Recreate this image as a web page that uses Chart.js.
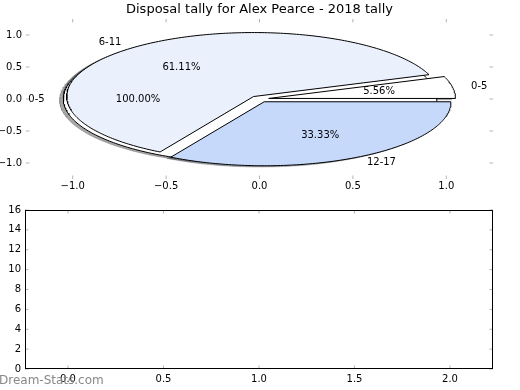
<!DOCTYPE html>
<html><head><meta charset="utf-8">
<script src="https://cdn.jsdelivr.net/npm/chart.js@4.4.0/dist/chart.umd.min.js"></script>
<style>
html,body{margin:0;padding:0;background:#fff;}
#wrap{position:relative;width:520px;height:390px;overflow:hidden;background:#fff;}
#top{position:absolute;left:0;top:0;}
#bot{position:absolute;left:0;top:200px;}
#wm{position:absolute;left:-1px;top:373px;font:12px "DejaVu Sans";line-height:14px;color:#888;white-space:nowrap;}
</style></head><body>
<div id="wrap">
<canvas id="top" width="520" height="200"></canvas>
<canvas id="bot" width="520" height="190"></canvas>
<div id="wm">Dream-Stats.com</div>
</div>
<script>
// ---- data ----
const chartTitle = 'Disposal tally for Alex Pearce - 2018 tally';
const backCategories = ['0-5'];
const backValues = [1];
const categories = ['0-5', '6-11', '12-17'];
const values = [1, 11, 6];
const pieXTicks = [-1, -0.5, 0, 0.5, 1];
const pieYTicks = [-1, -0.5, 0, 0.5, 1];
const lowerXTicks = [0, 0.5, 1, 1.5, 2];
const lowerYTicks = [0, 2, 4, 6, 8, 10, 12, 14, 16];

// ---- style ----
const backColors = ['#ffffff'];
const sliceColors = ['#ffffff', '#eaf1fd', '#c6d9fb'];
const EXPLODE = 0.05, LABEL_D = 1.1, PCT_D = 0.6, SHADOW = -0.02;

Chart.defaults.font.family = '"DejaVu Sans", sans-serif';
Chart.defaults.font.size = 10;
Chart.defaults.color = '#000';

function wedges(vals, cats) {
  const total = vals.reduce((a, b) => a + b, 0);
  let a0 = 0;
  return vals.map((v, i) => {
    const frac = v / total;
    const a1 = a0 + 360 * frac;
    const mid = (a0 + a1) / 2 * Math.PI / 180;
    const cx = EXPLODE * Math.cos(mid), cy = EXPLODE * Math.sin(mid);
    const full = frac >= 0.99999;
    const pts = [];
    if (!full) pts.push({x: cx, y: cy});
    const n = Math.max(8, Math.ceil(frac * 360));
    for (let k = 0; k <= n; k++) {
      const t = (a0 + (a1 - a0) * k / n) * Math.PI / 180;
      pts.push({x: cx + Math.cos(t), y: cy + Math.sin(t)});
    }
    if (!full) pts.push({x: cx, y: cy});
    a0 = a1;
    return {label: cats[i], frac, mid, cx, cy, pts};
  });
}
function shadowColor(hex) {
  const r = parseInt(hex.slice(1, 3), 16), g = parseInt(hex.slice(3, 5), 16), b = parseInt(hex.slice(5, 7), 16);
  return `rgba(${Math.round(r * 0.3)},${Math.round(g * 0.3)},${Math.round(b * 0.3)},0.5)`;
}

const backW = wedges(backValues, backCategories);
const frontW = wedges(values, categories);
const datasets = [];
backW.map((w, i) => [w, backColors[i]]).concat(frontW.map((w, i) => [w, sliceColors[i]])).forEach(([w, c]) => {
  datasets.push({data: w.pts.map(p => ({x: p.x + SHADOW, y: p.y + SHADOW})), order: 100, fill: 'shape',
    backgroundColor: shadowColor(c), borderColor: shadowColor(c), borderWidth: 0.5, pointRadius: 0, tension: 0});
});
backW.forEach((w, i) => datasets.push({data: w.pts, order: 50, fill: 'shape', backgroundColor: backColors[i],
  borderColor: '#000', borderWidth: 1, pointRadius: 0, tension: 0}));
frontW.forEach((w, i) => datasets.push({data: w.pts, order: 10, fill: 'shape', backgroundColor: sliceColors[i],
  borderColor: '#000', borderWidth: 1, pointRadius: 0, tension: 0}));

const fmt1 = v => (v < 0 ? '\u2212' : '') + Math.abs(v).toFixed(1);
const fixTicks = list => scale => { scale.ticks = list.map(v => ({value: v})); };
const fixSize = (w, h) => scale => {
  if (w != null) scale.width = w;
  if (h != null) scale.height = h;
  scale.paddingTop = scale.paddingBottom = scale.paddingLeft = scale.paddingRight = 0;
};

const inwardTicks = {
  id: 'inwardTicks',
  afterDatasetsDraw(chart, args, opts) {
    const {ctx, chartArea: a, scales: {x, y}} = chart;
    const L = 3.5;
    ctx.save();
    ctx.strokeStyle = '#b4b4b4';
    ctx.lineWidth = 1;
    ctx.beginPath();
    x.ticks.forEach(t => {
      const p = x.getPixelForValue(t.value);
      ctx.moveTo(p, a.top); ctx.lineTo(p, a.top + L);
      ctx.moveTo(p, a.bottom); ctx.lineTo(p, a.bottom - L);
    });
    y.ticks.forEach(t => {
      const p = y.getPixelForValue(t.value);
      ctx.moveTo(a.left, p); ctx.lineTo(a.left + L, p);
      ctx.moveTo(a.right, p); ctx.lineTo(a.right - L, p);
    });
    ctx.stroke();
    if (opts.frame) {
      ctx.strokeStyle = '#000';
      ctx.strokeRect(Math.round(a.left) + 0.5, Math.round(a.top) + 0.5,
        Math.round(a.right) - Math.round(a.left) - 1, Math.round(a.bottom) - Math.round(a.top) - 1);
    }
    ctx.restore();
  }
};

const pieText = {
  id: 'pieText',
  afterDatasetsDraw(chart) {
    const {ctx, scales: {x, y}} = chart;
    ctx.save();
    ctx.font = '10px "DejaVu Sans"';
    ctx.fillStyle = '#000';
    ctx.textBaseline = 'middle';
    backW.concat(frontW).forEach(w => {
      const lx = w.cx + LABEL_D * Math.cos(w.mid), ly = w.cy + LABEL_D * Math.sin(w.mid);
      ctx.textAlign = lx > 0 ? 'left' : 'right';
      ctx.fillText(w.label, x.getPixelForValue(lx), y.getPixelForValue(ly));
      const px = w.cx + PCT_D * Math.cos(w.mid), py = w.cy + PCT_D * Math.sin(w.mid);
      ctx.textAlign = 'center';
      ctx.fillText((w.frac * 100).toFixed(2) + '%', x.getPixelForValue(px), y.getPixelForValue(py));
    });
    ctx.restore();
  }
};

new Chart(document.getElementById('top'), {
  type: 'line',
  data: {datasets},
  plugins: [inwardTicks, pieText],
  options: {
    responsive: false, animation: false, devicePixelRatio: 1, events: [],
    layout: {padding: {left: 0, right: 27, top: 0, bottom: 0}},
    plugins: {
      legend: {display: false}, tooltip: {enabled: false},
      title: {display: true, text: chartTitle, fullSize: false, color: '#000',
        font: {size: 13, weight: 'normal', lineHeight: 1.2}, padding: {top: 2, bottom: 1.4}},
      inwardTicks: {frame: false}
    },
    scales: {
      x: {type: 'linear', min: -1.25, max: 1.25, afterBuildTicks: fixTicks(pieXTicks), afterFit: fixSize(null, 21),
        grid: {display: false, drawTicks: false}, border: {display: false},
        ticks: {padding: 1.5, callback: fmt1, maxRotation: 0, autoSkip: false}},
      y: {type: 'linear', min: -1.25, max: 1.25, afterBuildTicks: fixTicks(pieYTicks), afterFit: fixSize(26, null),
        grid: {display: false, drawTicks: false}, border: {display: false},
        ticks: {padding: 4, callback: fmt1, autoSkip: false}}
    }
  }
});

new Chart(document.getElementById('bot'), {
  type: 'line',
  data: {datasets: []},
  plugins: [inwardTicks],
  options: {
    responsive: false, animation: false, devicePixelRatio: 1, events: [],
    layout: {padding: {left: 0, right: 27, top: 10, bottom: 0}},
    plugins: {legend: {display: false}, tooltip: {enabled: false}, inwardTicks: {frame: true}},
    scales: {
      x: {type: 'linear', min: -0.225, max: 2.225, afterBuildTicks: fixTicks(lowerXTicks), afterFit: fixSize(null, 21),
        grid: {display: false, drawTicks: false}, border: {display: false},
        ticks: {padding: 4, callback: v => v.toFixed(1), maxRotation: 0, autoSkip: false}},
      y: {type: 'linear', min: 0, max: 16, afterBuildTicks: fixTicks(lowerYTicks), afterFit: fixSize(25, null),
        grid: {display: false, drawTicks: false}, border: {display: false},
        ticks: {padding: 4, callback: v => String(v), autoSkip: false}}
    }
  }
});
</script>
</body></html>
